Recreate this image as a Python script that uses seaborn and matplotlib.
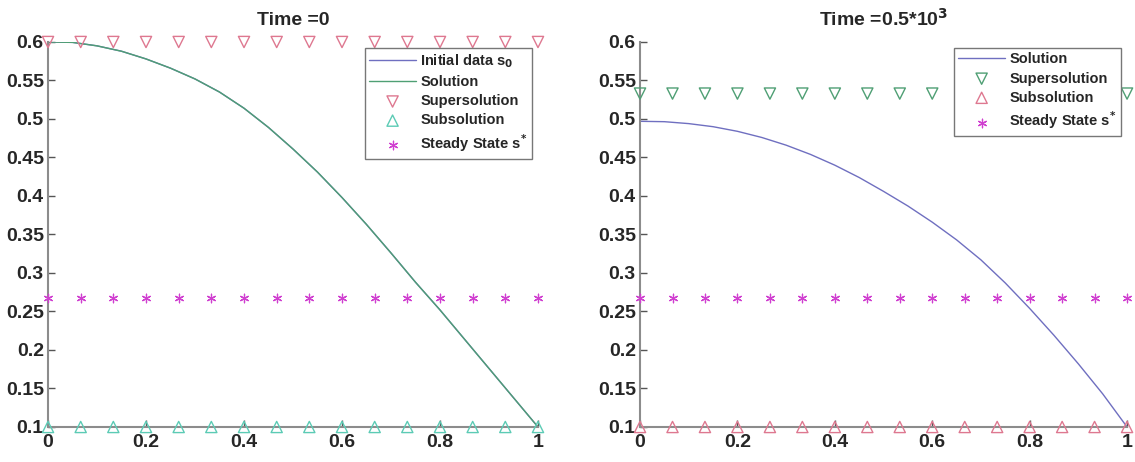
import matplotlib
matplotlib.use("Agg")
import matplotlib.pyplot as plt
import seaborn as sns

# marker grid (16 points on [0, 1])
x_marks = [0.0, 0.0667, 0.1333, 0.2, 0.2667, 0.3333, 0.4, 0.4667,
           0.5333, 0.6, 0.6667, 0.7333, 0.8, 0.8667, 0.9333, 1.0]

# curve sample positions
x_curve = [0.0, 0.05, 0.1, 0.15, 0.2, 0.25, 0.3, 0.35, 0.4, 0.45, 0.5,
           0.55, 0.6, 0.65, 0.7, 0.75, 0.8, 0.85, 0.9, 0.95, 1.0]

# left panel, Time = 0
y_left = [0.600, 0.5995, 0.595, 0.588, 0.578, 0.566, 0.552, 0.535, 0.514,
          0.489, 0.461, 0.431, 0.398, 0.363, 0.326, 0.288, 0.252, 0.214,
          0.176, 0.138, 0.100]
super_left = [0.6] * 16
sub_left = [0.1] * 16

# right panel, Time = 0.5*10^3
y_right = [0.497, 0.4965, 0.494, 0.490, 0.484, 0.476, 0.466, 0.454, 0.440,
           0.424, 0.406, 0.387, 0.366, 0.343, 0.317, 0.287, 0.254, 0.219,
           0.182, 0.143, 0.100]
super_right = [0.533] * 16
sub_right = [0.1] * 16

steady = [0.2675] * 16

sns.set_theme(style="white")
plt.rcParams["font.family"] = ["Liberation Sans", "DejaVu Sans"]
plt.rcParams["font.weight"] = "bold"

fig = plt.figure(figsize=(11.35, 4.62), dpi=100)
ax1 = fig.add_axes([0.0423, 0.0758, 0.4317, 0.8333])
ax2 = fig.add_axes([0.5639, 0.0758, 0.4291, 0.8333])

blue = "#6f6fc0"
green = "#4f9f74"
red = "#de7890"
teal = "#5ccbb5"
magenta = "#d040d0"
star = (6, 2, 0)


def hollow(ax, y, marker, color, label, size=65):
    sns.scatterplot(x=x_marks, y=y, ax=ax, marker=marker, s=size,
                    facecolor="none", edgecolor=color, linewidth=1.0,
                    label=label, clip_on=False, zorder=3)


def stars(ax, label):
    sns.scatterplot(x=x_marks, y=steady, ax=ax, marker=star, s=38,
                    color=magenta, linewidth=0.9, label=label,
                    clip_on=False, zorder=3)


# left
sns.lineplot(x=x_curve, y=y_left, ax=ax1, color=blue, linewidth=1.0, label="Initial data s$_0$")
sns.lineplot(x=x_curve, y=y_left, ax=ax1, color=green, linewidth=1.0, label="Solution")
hollow(ax1, super_left, "v", red, "Supersolution")
hollow(ax1, sub_left, "^", teal, "Subsolution")
stars(ax1, "Steady State s$^{*}$")
ax1.set_title("Time =0", fontsize=14, fontweight="bold", pad=12)

# right
sns.lineplot(x=x_curve, y=y_right, ax=ax2, color=blue, linewidth=1.0, label="Solution")
hollow(ax2, super_right, "v", green, "Supersolution")
hollow(ax2, sub_right, "^", red, "Subsolution")
stars(ax2, "Steady State s$^{*}$")
ax2.set_title("Time =0.5*10$^3$", fontsize=14, fontweight="bold", pad=12)

anchors = {ax1: (0.4687, 0.896), ax2: (0.9877, 0.896)}
for ax in (ax1, ax2):
    ax.set_xlim(0, 1)
    ax.set_ylim(0.1, 0.6)
    ax.set_xticks([0, 0.2, 0.4, 0.6, 0.8, 1])
    ax.set_xticklabels(["0", "0.2", "0.4", "0.6", "0.8", "1"])
    ax.set_yticks([0.1, 0.15, 0.2, 0.25, 0.3, 0.35, 0.4, 0.45, 0.5, 0.55, 0.6])
    ax.set_yticklabels(["0.1", "0.15", "0.2", "0.25", "0.3", "0.35", "0.4",
                        "0.45", "0.5", "0.55", "0.6"])
    ax.tick_params(direction="in", length=5, width=1, color="#555555",
                   labelsize=14, left=True, bottom=True)
    ax.tick_params(axis="x", pad=5)
    ax.tick_params(axis="y", pad=3)
    for lab in ax.get_xticklabels() + ax.get_yticklabels():
        lab.set_fontweight("bold")
    for s in ("top", "right"):
        ax.spines[s].set_visible(False)
    for s in ("left", "bottom"):
        ax.spines[s].set_color("#8c8c8c")
        ax.spines[s].set_linewidth(1.5)
    leg = ax.legend(loc="upper right", bbox_to_anchor=anchors[ax],
                    bbox_transform=fig.transFigure, fontsize=10.5,
                    frameon=True, fancybox=False, framealpha=1,
                    edgecolor="#777777", borderpad=0.3, labelspacing=0.35,
                    handlelength=3.2, handletextpad=0.3, borderaxespad=0)
    leg.get_frame().set_linewidth(1.0)
    for t in leg.get_texts():
        t.set_fontweight("bold")

fig.savefig("out.png", dpi=100)
